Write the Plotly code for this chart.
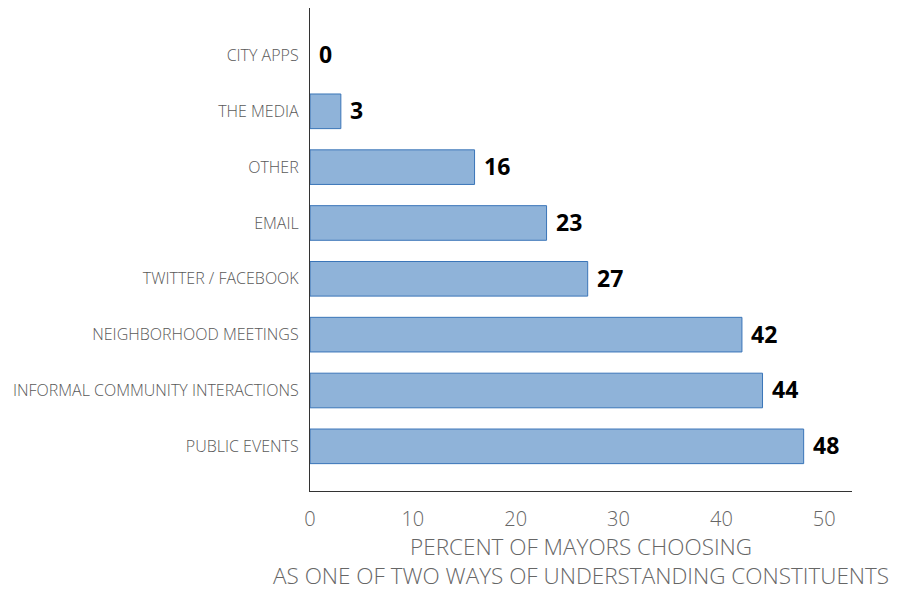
import plotly.graph_objects as go

categories = ["PUBLIC EVENTS", "INFORMAL COMMUNITY INTERACTIONS", "NEIGHBORHOOD MEETINGS",
              "TWITTER / FACEBOOK", "EMAIL", "OTHER", "THE MEDIA", "CITY APPS"]
values = [48, 44, 42, 27, 23, 16, 3, 0]
value_labels = ["48", "44", "42", "27", "23", "16", "3", "0"]
x_ticks = [0, 10, 20, 30, 40, 50]
x_title_lines = ["PERCENT OF MAYORS CHOOSING",
                 "AS ONE OF TWO WAYS OF UNDERSTANDING CONSTITUENTS"]

fig = go.Figure()
fig.add_trace(go.Bar(
    y=categories, x=values, orientation="h",
    marker=dict(color="#8FB3D9",
                line=dict(color="#3A75B8", width=[1 if v > 0 else 0 for v in values])),
    width=0.62,
    cliponaxis=False,
))

for c, v, t in zip(categories, values, value_labels):
    fig.add_annotation(x=v, y=c, text="<b>" + t + "</b>", showarrow=False,
                       xanchor="left", xshift=7, yshift=1,
                       font=dict(family="Open Sans", size=23, color="#000000"))

fig.add_annotation(x=0.5, y=0, xref="paper", yref="paper", text="<br>".join(x_title_lines),
                   showarrow=False, xanchor="center", yanchor="middle", yshift=-70,
                   borderpad=0,
                   font=dict(family="Open Sans", size=22.5, color="#666666", weight=300))

fig.update_layout(
    width=902, height=584,
    margin=dict(l=302, r=58, t=0, b=101, autoexpand=False),
    plot_bgcolor="white", paper_bgcolor="white",
    showlegend=False,
)
fig.update_xaxes(
    range=[0, 52.7], tickvals=x_ticks, showgrid=False, zeroline=False,
    showline=True, linecolor="#333333", linewidth=1.3, ticks="", automargin=False,
    tickfont=dict(family="Open Sans", size=20, color="#666666", weight=300),
    ticklabelstandoff=10,
)
fig.update_yaxes(
    range=[-0.8, 7.85], showgrid=False, zeroline=False, automargin=False,
    showline=True, linecolor="#333333", linewidth=1.3, ticks="", ticklen=0,
    tickfont=dict(family="Open Sans", size=16, color="#595959", weight=300),
    ticklabelstandoff=7,
)

fig.write_html("out.html")
